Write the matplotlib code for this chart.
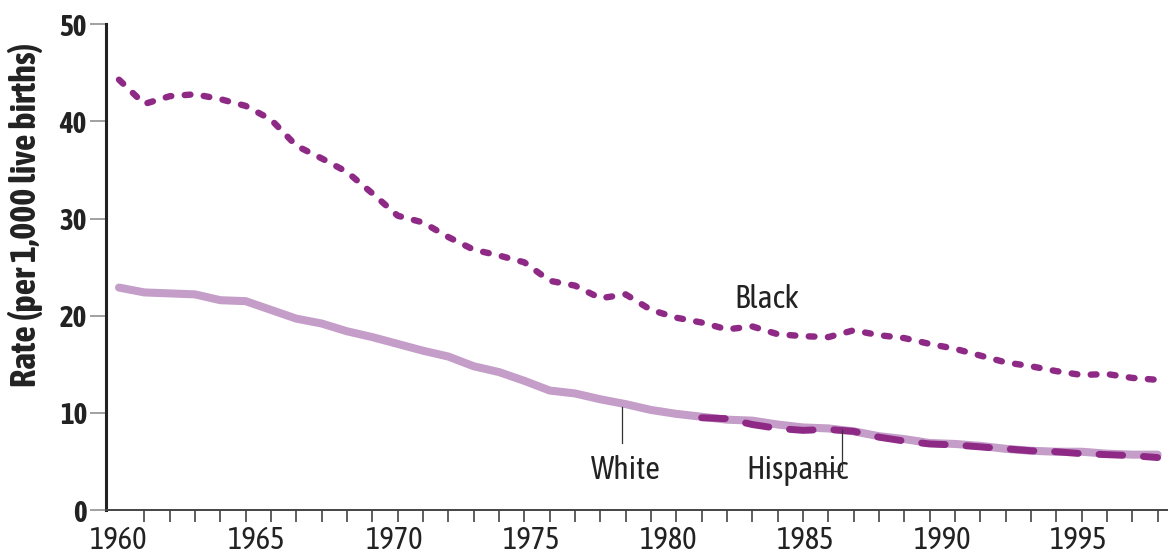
import matplotlib
matplotlib.use("Agg")
import matplotlib.pyplot as plt
import matplotlib.font_manager as fm
import matplotlib.patheffects as pe


def wnum(w):
    if isinstance(w, str):
        return fm.weight_dict.get(w, 400)
    return int(w)


# the original uses a condensed face; pick a narrow family, ideally with a bold
fams = {}
for f in fm.fontManager.ttflist:
    narrow_name = 'Narrow' in f.name or 'Condensed' in f.name
    narrow_stretch = str(f.stretch) in ('condensed', 'semi-condensed', 'extra-condensed')
    if narrow_name or narrow_stretch:
        key = (f.name, 'normal' if narrow_name else 'condensed')
        fams.setdefault(key, set()).add(wnum(f.weight))
narrow = ('Roboto', 'normal')
has_bold = True
if fams:
    ranked = sorted(fams.items(), key=lambda kv: max(kv[1]), reverse=True)
    narrow = ranked[0][0]
    has_bold = max(ranked[0][1]) >= 600
plt.rcParams['font.family'] = [narrow[0], 'DejaVu Sans']
plt.rcParams['font.stretch'] = narrow[1]
bold_fx = [] if has_bold else [pe.withStroke(linewidth=1.3, foreground='#222222')]

# infant mortality rate per 1,000 live births
years = list(range(1960, 2002))
black = [44.3, 41.8, 42.6, 42.8, 42.3, 41.6, 40.2, 37.5, 36.2, 34.8,
         32.6, 30.3, 29.6, 28.1, 26.8, 26.2, 25.5, 23.6, 23.1, 21.8,
         22.2, 20.6, 19.8, 19.3, 18.6, 18.9, 18.1, 17.9, 17.8, 18.5,
         18.0, 17.7, 17.1, 16.6, 15.9, 15.2, 14.8, 14.3, 13.9, 14.0,
         13.6, 13.4]
white = [22.9, 22.4, 22.3, 22.2, 21.6, 21.5, 20.6, 19.7, 19.2, 18.4,
         17.8, 17.1, 16.4, 15.8, 14.8, 14.2, 13.3, 12.3, 12.0, 11.4,
         10.9, 10.3, 9.9, 9.6, 9.3, 9.2, 8.8, 8.5, 8.4, 8.1,
         7.6, 7.3, 6.9, 6.8, 6.6, 6.3, 6.1, 6.0, 6.0, 5.8,
         5.7, 5.7]
hisp_years = list(range(1983, 2002))
hispanic = [9.5, 9.4, 8.8, 8.4, 8.2, 8.3, 8.1, 7.5, 7.1, 6.8,
            6.7, 6.5, 6.3, 6.1, 6.0, 5.8, 5.7, 5.6, 5.4]

# year labels sit a little off the yearly ticks in the original
label_text = ['1960', '1965', '1970', '1975', '1980', '1985', '1990', '1995']
label_pos = [1960.0, 1965.45, 1970.9, 1976.3, 1981.7, 1987.1, 1992.5, 1997.9]
yticks = [0, 10, 20, 30, 40, 50]

dark = '#8E2A86'
light = '#C49DC8'
ink = '#222222'

fig = plt.figure(figsize=(11.68, 5.58), dpi=100)
ax = fig.add_axes([0.0905, 0.086, 0.9095, 0.8704])

ax.plot(years, white, color=light, lw=5.8, solid_capstyle='round',
        solid_joinstyle='round', zorder=2)
ax.plot(years, black, color=dark, lw=4.6, linestyle=(0, (0.9, 2.1)),
        dash_capstyle='round', zorder=3)
ax.plot(hisp_years, hispanic, color=dark, lw=5.0, linestyle=(0, (3.4, 3.0)),
        dash_capstyle='round', zorder=4)

ax.set_xlim(1959.475, 2001.41)
ax.set_ylim(0, 50)

for s in ['top', 'right']:
    ax.spines[s].set_visible(False)
ax.spines['left'].set_linewidth(2.2)
ax.spines['left'].set_color(ink)
ax.spines['bottom'].set_linewidth(1.4)
ax.spines['bottom'].set_color('#444444')

ax.set_xticks(years, minor=True)
ax.set_xticks(label_pos)
ax.set_xticklabels(label_text, fontsize=22, color=ink)
ax.tick_params(axis='x', which='major', length=0, pad=11)
ax.tick_params(axis='x', which='minor', length=8.6, width=1.1, color='#333333')

ax.set_yticks(yticks)
ylabels = ax.set_yticklabels([str(v) for v in yticks], fontsize=21,
                             fontweight='bold', color=ink)
for t in ylabels:
    t.set_path_effects(bold_fx)
ax.tick_params(axis='y', length=11.5, width=1.1, color='#888888', pad=2)

ylab = fig.text(26 / 1168, 1 - 215 / 558, 'Rate (per 1,000 live births)',
                rotation=90, ha='center', va='center', fontsize=21,
                fontweight='bold', color=ink, path_effects=bold_fx)
# stretch the axis title over the same span as in the original
r = fig.canvas.get_renderer()
h = ylab.get_window_extent(r).height
ylab.set_fontsize(min(26, 21 * 356 / h))

# series labels with leader lines
ax.text(1985.58, 20.8, 'Black', fontsize=23, ha='center', va='baseline',
        color=ink)
ax.text(1980.0, 3.2, 'White', fontsize=23, ha='center', va='baseline',
        color=ink)
ax.plot([1979.84, 1979.84], [10.6, 6.9], color='#333333', lw=0.9, zorder=5)
ax.text(1986.77, 3.2, 'Hispanic', fontsize=23, ha='center', va='baseline',
        color=ink)
ax.plot([1988.54, 1988.54, 1987.4], [8.2, 4.04, 4.04], color='#333333',
        lw=0.9, zorder=5)

fig.savefig('out.png', dpi=100)
